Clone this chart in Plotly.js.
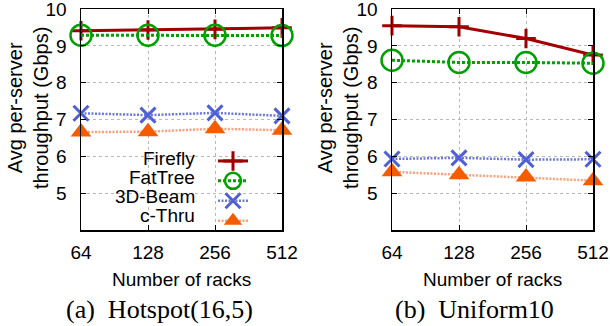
<!DOCTYPE html>
<html>
<head>
<meta charset="utf-8">
<script src="https://cdn.plot.ly/plotly-3.0.1.min.js"></script>
<style>html,body{margin:0;padding:0;background:#fff;}#chart{width:610px;height:326px;}</style>
</head>
<body>
<div id="chart"></div>
<script>
// ---- data ----
const racks = ['64', '128', '256', '512'];
const seriesNames = ['Firefly', 'FatTree', '3D-Beam', 'c-Thru'];
const yTickVals = [5, 6, 7, 8, 9, 10];
const yTitle = 'Avg per-server<br>throughput (Gbps)';
const xTitle = 'Number of racks';
const captions = ['(a)\u00a0 Hotspot(16,5)', '(b)\u00a0 Uniform10'];

// (a) Hotspot(16,5)
const hotFirefly = [9.41, 9.43, 9.45, 9.49];
const hotFatTree = [9.29, 9.29, 9.29, 9.28];
const hotBeam3D  = [7.17, 7.12, 7.18, 7.10];
const hotCThru   = [6.66, 6.67, 6.75, 6.71];

// (b) Uniform10
const uniFirefly = [9.55, 9.52, 9.20, 8.75];
const uniFatTree = [8.61, 8.55, 8.55, 8.53];
const uniBeam3D  = [5.93, 5.96, 5.91, 5.92];
const uniCThru   = [5.58, 5.50, 5.44, 5.34];

// ---- styles ----
const styles = [
  {line: {color: '#a00000', width: 3}, marker: {symbol: 'cross-thin-open', size: 14, color: '#a00000', line: {color: '#a00000', width: 3}}},
  {line: {color: '#00a000', width: 3, dash: '3px,2px'}, marker: {symbol: 'circle-open', size: 21, color: '#00a000', line: {color: '#00a000', width: 2.5}}},
  {line: {color: '#6a78e0', width: 2.5, dash: '2px,1.5px'}, marker: {symbol: 'x-thin-open', size: 15, color: '#4f5fd6', line: {color: '#4f5fd6', width: 3}}},
  {line: {color: '#ff9e7a', width: 2.5, dash: '2px,1.5px'}, marker: {symbol: 'triangle-up', size: 18, color: '#f55c00', line: {width: 0}}}
];

const panels = [
  {xa: 'x', ya: 'y', data: [hotFirefly, hotFatTree, hotBeam3D, hotCThru], legend: true},
  {xa: 'x2', ya: 'y2', data: [uniFirefly, uniFatTree, uniBeam3D, uniCThru], legend: false}
];

const traces = [];
panels.forEach(p => {
  p.data.forEach((vals, i) => {
    traces.push({
      type: 'scatter', mode: 'lines+markers',
      x: racks, y: vals, xaxis: p.xa, yaxis: p.ya,
      name: ' ', legendgroup: seriesNames[i], showlegend: p.legend,
      hovertext: seriesNames[i],
      line: styles[i].line, marker: styles[i].marker, cliponaxis: false
    });
  });
});

const font = 'Liberation Sans, Arial, sans-serif';
function xAxis(domain, anchor) {
  return {
    domain: domain, anchor: anchor, type: 'category', range: [0, 3],
    showline: true, linecolor: '#000', linewidth: 1.5, mirror: 'ticks',
    ticks: 'inside', ticklen: 5, tickcolor: '#000', tickwidth: 1,
    showgrid: true, gridcolor: '#b8b8b8', griddash: 'dot', gridwidth: 1,
    tickfont: {family: font, size: 19, color: '#000'}, ticklabelstandoff: 5,
    ticklabeloverflow: 'allow',
    zeroline: false, fixedrange: true
  };
}
function yAxis(anchor) {
  return {
    domain: [1 - 230 / 326, 1 - 9 / 326], anchor: anchor, range: [4, 10.002],
    tickvals: yTickVals, ticktext: yTickVals.map(String),
    showline: true, linecolor: '#000', linewidth: 1.5, mirror: 'ticks',
    ticks: 'inside', ticklen: 5, tickcolor: '#000', tickwidth: 1,
    showgrid: true, gridcolor: '#b8b8b8', griddash: 'dot', gridwidth: 1,
    tickfont: {family: font, size: 19, color: '#000'}, ticklabelstandoff: 9,
    ticklabeloverflow: 'allow',
    zeroline: false, fixedrange: true
  };
}

const annotations = [];
const plotCentersX = [181.5, 492.5];
const yTitleX = [28, 338];
const captionX = [159, 474];
for (let k = 0; k < 2; k++) {
  annotations.push({xref: 'paper', yref: 'paper', x: yTitleX[k] / 610, y: 1 - 108 / 326,
    text: yTitle, textangle: -90, showarrow: false, xanchor: 'center', yanchor: 'middle',
    font: {family: font, size: 20, color: '#000'}});
  annotations.push({xref: 'paper', yref: 'paper', x: plotCentersX[k] / 610, y: 1 - 279 / 326,
    text: xTitle, showarrow: false, xanchor: 'center', yanchor: 'middle',
    font: {family: font, size: 19, color: '#000'}});
  annotations.push({xref: 'paper', yref: 'paper', x: captionX[k] / 610, y: 1 - 309 / 326,
    text: captions[k], showarrow: false, xanchor: 'center', yanchor: 'middle',
    font: {family: 'Liberation Serif, Times New Roman, serif', size: 26, color: '#000'}});
}
const legendRowsY = [158, 177, 197, 216];
seriesNames.forEach((n, i) => {
  annotations.push({xref: 'paper', yref: 'paper', x: 196 / 610, y: 1 - legendRowsY[i] / 326,
    text: n, showarrow: false, xanchor: 'right', yanchor: 'middle', borderpad: 0,
    font: {family: font, size: 19, color: '#000'}});
});

const layout = {
  width: 610, height: 326,
  margin: {l: 0, r: 0, t: 0, b: 0},
  paper_bgcolor: '#fff', plot_bgcolor: 'rgba(0,0,0,0)',
  showlegend: true,
  legend: {x: 213 / 610, xanchor: 'left', y: 1 - 146 / 326, yanchor: 'top',
    bgcolor: 'rgba(0,0,0,0)', borderwidth: 0, font: {family: font, size: 13},
    itemclick: false, itemdoubleclick: false, traceorder: 'normal', tracegroupgap: 0},
  xaxis: xAxis([81 / 610, 282 / 610], 'y'),
  yaxis: yAxis('x'),
  xaxis2: xAxis([392 / 610, 593 / 610], 'y2'),
  yaxis2: yAxis('x2'),
  annotations: annotations
};

Plotly.newPlot('chart', traces, layout, {staticPlot: true, displayModeBar: false});
</script>
</body>
</html>
